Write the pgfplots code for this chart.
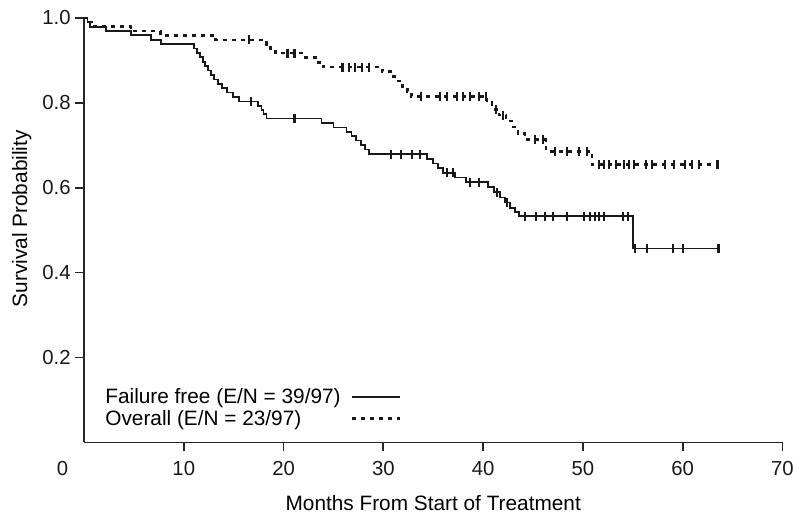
\documentclass[border=0pt]{standalone}
\usepackage{fontspec}
\setmainfont{Liberation Sans}
\usepackage{pgfplots}
\pgfplotsset{compat=1.18}
\begin{document}
\begin{tikzpicture}[font=\fontsize{21}{25}\selectfont]
\begin{axis}[
  at={(0,0)}, anchor=south west,
  scale only axis, width=702.5bp, height=427bp,
  xmin=0, xmax=70, ymin=0, ymax=1,
  axis lines=left, axis line style={-, line width=1.8bp, black!85},
  tick style={line width=1.8bp, black!85}, major tick length=9bp, tick align=outside,
  xtick={10,20,...,70}, ytick={0.2,0.4,0.6,0.8,1.0},
  yticklabels={0.2,0.4,0.6,0.8,1.0},
  /pgf/number format/assume math mode=true,
  ticklabel style={font=\fontsize{20.5}{23}\selectfont, text=black!90},
  xticklabel style={yshift=-7bp},
  yticklabel style={xshift=-1bp},
  xlabel={Months From Start of Treatment}, ylabel={Survival Probability},
  xlabel style={at={([yshift=-61bp]axis description cs:0.5,0)}, anchor=center},
  ylabel style={at={([xshift=-62.5bp]axis description cs:0,0.527)}, anchor=center},
  clip=false,
  legend plot pos=right, legend cell align=left,
  legend style={draw=none, fill=none, inner sep=0pt, outer sep=0pt,
    at={(rel axis cs:0,0)}, anchor=south west, xshift=21.5bp, yshift=16bp,
    nodes={inner sep=0pt, outer sep=0pt}, row sep=5bp, column sep=10bp},
  legend image code/.code={\draw[#1] (0bp,0bp) -- (48bp,0bp);},
]
\addplot[const plot, line width=1.8bp, black!90] coordinates {
(0,1.000) (0.35,0.990) (0.6,0.979) (2.2,0.969) (4.7,0.959) (6.7,0.948) (7.7,0.938)
(11.0,0.928) (11.3,0.917) (11.6,0.907) (11.9,0.896) (12.1,0.886) (12.4,0.876) (12.7,0.865)
(13.0,0.855) (13.4,0.845) (13.8,0.834) (14.3,0.824) (14.9,0.813) (15.5,0.803)
(17.4,0.793) (17.8,0.783) (18.0,0.773) (18.3,0.763)
(23.8,0.752) (25.0,0.742) (26.3,0.731) (26.8,0.721) (27.3,0.711) (27.8,0.700) (28.2,0.690) (28.6,0.679)
(34.4,0.668) (35.0,0.657) (35.5,0.646) (36.0,0.635) (37.2,0.624) (38.3,0.613)
(40.5,0.601) (41.1,0.589) (41.7,0.577) (42.2,0.565) (42.7,0.553) (43.2,0.542) (43.6,0.533)
(55.0,0.457) (63.6,0.457)};
\addlegendentry{Failure free (E/N = 39/97)}
\addplot[const plot, line width=2.7bp, black!90, dash pattern=on 4bp off 5bp] coordinates {
(0,1.000) (0.4,0.990) (0.9,0.979) (4.7,0.969) (7.7,0.959) (13.2,0.948)
(18.3,0.938) (18.7,0.927) (19.2,0.917) (22.2,0.906) (23.2,0.895) (24.0,0.884)
(29.9,0.873) (30.7,0.862) (31.3,0.851) (31.9,0.839) (32.4,0.827) (32.8,0.815)
(40.4,0.800) (40.9,0.785) (41.6,0.771) (42.3,0.757) (43.0,0.743) (43.5,0.728) (44.2,0.714)
(46.3,0.686) (50.9,0.654) (63.5,0.654)};
\addlegendentry{Overall (E/N = 23/97)}
\addplot[only marks, mark=|, mark size=4.5bp, black!90, mark options={line width=2.2bp, solid}, forget plot] coordinates {
(16.7,0.803) (21.1,0.763) (30.8,0.679) (31.8,0.679) (32.9,0.679) (33.7,0.679)
(36.4,0.635) (37.0,0.635) (38.7,0.613) (39.6,0.613) (41.4,0.589) (42.4,0.565)
(44.2,0.533) (45.3,0.533) (46.2,0.533) (47.0,0.533) (48.4,0.533) (50.1,0.533) (50.7,0.533)
(51.2,0.533) (51.6,0.533) (52.1,0.533) (54.0,0.533) (54.5,0.533)
(55.2,0.457) (56.4,0.457) (59.0,0.457) (60.0,0.457) (63.6,0.457)};
\addplot[only marks, mark=|, mark size=4.5bp, black!90, mark options={line width=2.2bp, solid}, forget plot] coordinates {
(16.5,0.948) (20.4,0.917) (21.1,0.917) (25.9,0.884) (26.6,0.884) (27.2,0.884) (27.9,0.884) (28.6,0.884)
(33.8,0.815) (35.7,0.815) (36.4,0.815) (37.4,0.815) (38.0,0.815) (38.7,0.815) (39.6,0.815) (40.3,0.815)
(41.3,0.785) (42.0,0.771) (45.2,0.714) (46.0,0.714)
(47.2,0.686) (48.4,0.686) (49.6,0.686) (50.4,0.686)
(51.6,0.654) (52.1,0.654) (52.6,0.654) (53.3,0.654) (54.1,0.654) (54.6,0.654) (55.1,0.654)
(56.3,0.654) (56.9,0.654) (58.2,0.654) (59.1,0.654) (60.2,0.654) (60.9,0.654) (61.6,0.654) (63.5,0.654)};
\node[font=\fontsize{20.5}{23}\selectfont, text=black!90] at (axis cs:0,0) [xshift=-21.5bp, yshift=-26bp] {0};
\end{axis}
\path (-84.5bp,-71bp) rectangle (712.5bp,445bp);
\end{tikzpicture}
\end{document}
